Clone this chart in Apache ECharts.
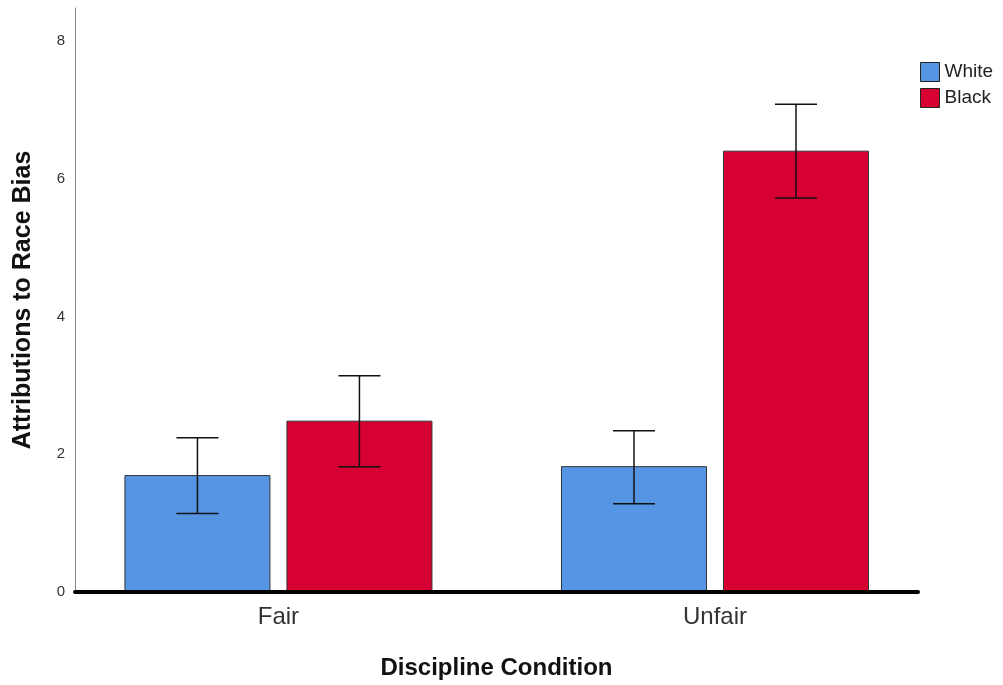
<!DOCTYPE html>
<html>
<head>
<meta charset="utf-8">
<script src="https://cdn.jsdelivr.net/npm/echarts@6/dist/echarts.min.js"></script>
<style>
html,body{margin:0;padding:0;background:#fff;}
#chart{width:1003px;height:685px;}
</style>
</head>
<body>
<div id="chart"></div>
<script>
var categories = ['Fair', 'Unfair'];
var seriesNames = ['White', 'Black'];
var whiteMeans = [1.69, 1.82];
var whiteLow = [1.14, 1.28];
var whiteHigh = [2.24, 2.34];
var blackMeans = [2.48, 6.40];
var blackLow = [1.82, 5.72];
var blackHigh = [3.14, 7.08];
var yTicks = [0, 2, 4, 6, 8];

var colors = ['#5595E4', '#D60032'];
var offsets = [-81, 81];
var BAR_W = 145;
var CAP_W = 42;

function buildData(means, lows, highs) {
  return means.map(function (m, i) { return [i, m, lows[i], highs[i]]; });
}

function makeRender(offset) {
  return function (params, api) {
    var c = api.value(0);
    var v = api.value(1), lo = api.value(2), hi = api.value(3);
    var base = api.coord([c, 0]);
    var top = api.coord([c, v]);
    var pLo = api.coord([c, lo]);
    var pHi = api.coord([c, hi]);
    var x = base[0] + offset;
    return {
      type: 'group',
      children: [
        { type: 'rect', shape: { x: x - BAR_W / 2, y: top[1], width: BAR_W, height: base[1] - top[1] },
          style: { fill: api.visual('color'), stroke: '#333', lineWidth: 1 } },
        { type: 'line', shape: { x1: x, y1: pHi[1], x2: x, y2: pLo[1] },
          style: { stroke: '#111', lineWidth: 1.5 } },
        { type: 'line', shape: { x1: x - CAP_W / 2, y1: pHi[1], x2: x + CAP_W / 2, y2: pHi[1] },
          style: { stroke: '#111', lineWidth: 1.5 } },
        { type: 'line', shape: { x1: x - CAP_W / 2, y1: pLo[1], x2: x + CAP_W / 2, y2: pLo[1] },
          style: { stroke: '#111', lineWidth: 1.5 } }
      ]
    };
  };
}

var chart = echarts.init(document.getElementById('chart'));
var FONT = '"Liberation Sans", Arial, sans-serif';
chart.setOption({
  animation: false,
  backgroundColor: '#fff',
  textStyle: { fontFamily: FONT },
  grid: { left: 75, right: 85, top: 8, bottom: 92, containLabel: false },
  legend: {
    orient: 'vertical', left: 920, top: 62, padding: 0,
    itemWidth: 19, itemHeight: 19, itemGap: 6,
    icon: 'rect',
    itemStyle: { borderColor: '#222', borderWidth: 1 },
    textStyle: { fontSize: 19, color: '#222', fontFamily: FONT },
    data: seriesNames
  },
  xAxis: {
    type: 'value',
    min: -0.466, max: 1.465,
    z: 10,
    axisLine: { show: true, onZero: false, lineStyle: { color: '#000', width: 4 } },
    axisTick: { show: false },
    splitLine: { show: false },
    axisLabel: {
      customValues: [0, 1],
      formatter: function (v) { return categories[Math.round(v)]; },
      fontSize: 24, color: '#333', margin: 13, fontFamily: FONT
    },
    name: 'Discipline Condition',
    nameLocation: 'middle', nameGap: 64,
    nameTextStyle: { fontSize: 24, fontWeight: 'bold', color: '#111', fontFamily: FONT }
  },
  yAxis: {
    type: 'value',
    min: 0, max: 8.478, interval: 2,
    axisLine: { show: true, onZero: false, lineStyle: { color: '#888', width: 1 } },
    axisTick: { show: false },
    splitLine: { show: false },
    axisLabel: { showMaxLabel: false, fontSize: 15, color: '#333', margin: 10, fontFamily: FONT,
      formatter: function (v) { return yTicks.indexOf(v) >= 0 ? String(v) : ''; } },
    name: 'Attributions to Race Bias',
    nameLocation: 'middle', nameGap: 39,
    nameTextStyle: { fontSize: 25, fontWeight: 'bold', color: '#111', fontFamily: FONT }
  },
  series: [
    { name: seriesNames[0], type: 'custom', itemStyle: { color: colors[0] },
      renderItem: makeRender(offsets[0]), encode: { x: 0, y: [1, 2, 3] },
      data: buildData(whiteMeans, whiteLow, whiteHigh) },
    { name: seriesNames[1], type: 'custom', itemStyle: { color: colors[1] },
      renderItem: makeRender(offsets[1]), encode: { x: 0, y: [1, 2, 3] },
      data: buildData(blackMeans, blackLow, blackHigh) }
  ]
});
</script>
</body>
</html>
